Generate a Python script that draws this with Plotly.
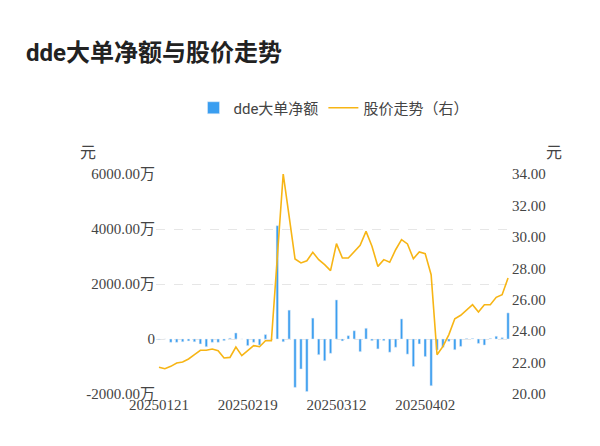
import plotly.graph_objects as go

dates = (["202501%02d" % d for d in [21, 22, 23, 24, 27]]
         + ["202502%02d" % d for d in [5, 6, 7, 10, 11, 12, 13, 14, 17, 18, 19, 20, 21, 24, 25, 26, 27, 28]]
         + ["202503%02d" % d for d in [3, 4, 5, 6, 7, 10, 11, 12, 13, 14, 17, 18, 19, 20, 21, 24, 25, 26, 27, 28, 31]]
         + ["202504%02d" % d for d in [1, 2, 3, 7, 8, 9, 10, 11, 14, 15, 16, 17, 18, 21, 22, 23]])

dde = [-20, 0, -120, -120, -100, -70, -100, -180, -280, -120,
       -120, -60, 30, 220, 0, -240, -120, -220, 160, 0,
       4120, -100, 1050, -1760, -1090, -1910, 760, -570, -790, -520,
       1420, -70, 120, 300, -460, 390, -60, -360, -60, -480,
       -300, 730, -550, -1000, -180, -640, -1700, -400, -300, -85,
       -390, -270, 20, 20, -160, -220, 20, 100, 50, 950]

price = [21.70, 21.61, 21.76, 21.97, 22.04, 22.23, 22.50, 22.78, 22.78, 22.86,
         22.76, 22.29, 22.33, 22.99, 22.44, 22.76, 23.08, 23.01, 23.39, 23.39,
         28.65, 34.00, 31.30, 28.59, 28.34, 28.48, 29.02, 28.55, 28.23, 27.85,
         29.57, 28.65, 28.65, 29.04, 29.46, 30.35, 29.40, 28.12, 28.55, 28.38,
         29.18, 29.82, 29.55, 28.61, 29.04, 28.93, 27.59, 22.50, 23.03, 23.78,
         24.79, 25.01, 25.37, 25.68, 25.22, 25.68, 25.68, 26.15, 26.32, 27.38]

left_ticks = [-2000, 0, 2000, 4000, 6000]
left_labels = ["-2000.00万", "0", "2000.00万", "4000.00万", "6000.00万"]
x_ticks = ["20250121", "20250219", "20250312", "20250402"]

serif = "Liberation Serif, Noto Sans CJK SC"

fig = go.Figure()
fig.add_trace(go.Bar(x=dates, y=dde, name="dde大单净额", marker_color="#3a9ef0",
                     width=0.4))
fig.add_trace(go.Scatter(x=dates, y=price, name="股价走势（右）", yaxis="y2",
                         mode="lines", line=dict(color="#f7b515", width=1.6)))

fig.update_layout(
    width=600, height=446,
    margin=dict(l=148, r=97, t=166, b=60, autoexpand=False),
    plot_bgcolor="white", paper_bgcolor="white",
    font=dict(family="Roboto, Noto Sans CJK SC", color="#555", size=14),
    title=dict(text="<b>dde大单净额与股价走势</b>", x=0.03, xanchor="left",
               y=0.9, yanchor="middle", font=dict(size=24, color="#222")),
    legend=dict(orientation="h", x=0.5, xanchor="center", y=1.3, yanchor="middle",
                font=dict(size=15, color="#444")),
    showlegend=True,
    bargap=0.6,
    xaxis=dict(type="category", tickvals=x_ticks, ticktext=x_ticks, showgrid=False,
               ticks="", automargin=False, tickfont=dict(size=15, family=serif, color="#444")),
    yaxis=dict(range=[-2000, 6000], tickvals=left_ticks, ticktext=left_labels,
               gridcolor="#e6e6e6", griddash="dash", zeroline=False, automargin=False,
               tickfont=dict(size=15, family=serif, color="#444")),
    yaxis2=dict(range=[20, 34], dtick=2, tickformat=".2f", overlaying="y",
                side="right", showgrid=False, zeroline=False, automargin=False,
                tickfont=dict(size=15, family=serif, color="#444")),
    annotations=[
        dict(text="元", xref="paper", yref="paper", x=-0.22, y=1.15,
             showarrow=False, font=dict(size=16, color="#444")),
        dict(text="元", xref="paper", yref="paper", x=1.15, y=1.15,
             showarrow=False, font=dict(size=16, color="#444")),
    ],
)

fig.write_html("out.html")
